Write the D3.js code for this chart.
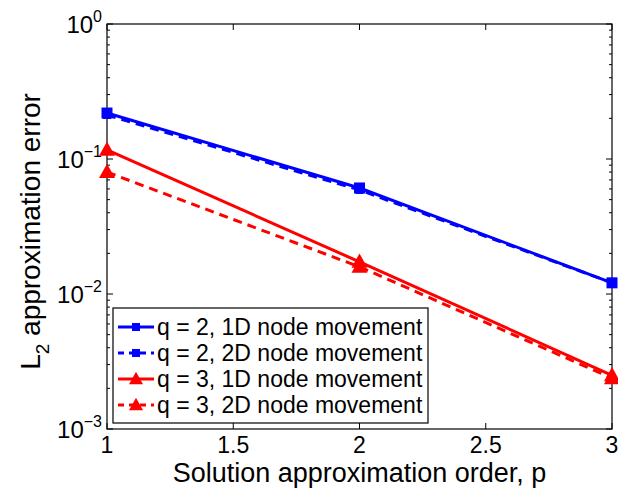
<!DOCTYPE html>
<html>
<head>
<meta charset="utf-8">
<script src="https://cdn.jsdelivr.net/npm/d3@7"></script>
<style>
  body { margin: 0; background: #fff; }
  text { font-family: "Liberation Sans", Arial, sans-serif; }
</style>
</head>
<body>
<div id="chart"></div>
<script>
// data
const orders = [1, 2, 3];
const q2_1d = [0.219, 0.061, 0.0121];
const q2_2d = [0.212, 0.059, 0.0121];
const q3_1d = [0.117, 0.0173, 0.0025];
const q3_2d = [0.080, 0.0159, 0.00238];
const seriesNames = ["q = 2, 1D node movement", "q = 2, 2D node movement",
                     "q = 3, 1D node movement", "q = 3, 2D node movement"];
const xTicks = [1, 1.5, 2, 2.5, 3];
const yDecades = [-3, -2, -1, 0];

const series = [
  {name: seriesNames[0], values: q2_1d, color: "#0000ff", dash: null, marker: "square", size: 11},
  {name: seriesNames[1], values: q2_2d, color: "#0000ff", dash: "9,6", marker: "square", size: 8},
  {name: seriesNames[2], values: q3_1d, color: "#ff0000", dash: null, marker: "triangle", size: 16},
  {name: seriesNames[3], values: q3_2d, color: "#ff0000", dash: "9,6", marker: "triangle", size: 16}
];

const W = 618, H = 489;
const margin = {top: 24, right: 6, bottom: 60, left: 107};
const width = W - margin.left - margin.right,
      height = H - margin.top - margin.bottom;

const svg = d3.select("#chart").append("svg")
  .attr("width", W).attr("height", H);
const g = svg.append("g").attr("transform", `translate(${margin.left},${margin.top})`);

const xScale = d3.scaleLinear().domain([1, 3]).range([0, width]);
const yScale = d3.scaleLog().domain([1e-3, 1]).range([height, 0]);

// minor log ticks
const minor = [];
yDecades.slice(0, 3).forEach(e => {
  for (let k = 2; k <= 9; k++) minor.push(k * Math.pow(10, e));
});

// inward ticks on all four sides
const tickG = g.append("g").attr("stroke", "#000").attr("stroke-width", 1);
xTicks.forEach(t => {
  tickG.append("line").attr("x1", xScale(t)).attr("x2", xScale(t)).attr("y1", height).attr("y2", height - 6);
  tickG.append("line").attr("x1", xScale(t)).attr("x2", xScale(t)).attr("y1", 0).attr("y2", 6);
});
yDecades.forEach(e => {
  const y = yScale(Math.pow(10, e));
  tickG.append("line").attr("x1", 0).attr("x2", 6).attr("y1", y).attr("y2", y);
  tickG.append("line").attr("x1", width).attr("x2", width - 6).attr("y1", y).attr("y2", y);
});
minor.forEach(v => {
  const y = yScale(v);
  tickG.append("line").attr("x1", 0).attr("x2", 3).attr("y1", y).attr("y2", y);
  tickG.append("line").attr("x1", width).attr("x2", width - 3).attr("y1", y).attr("y2", y);
});

// box
g.append("rect").attr("x", 0).attr("y", 0).attr("width", width).attr("height", height)
  .attr("fill", "none").attr("stroke", "#000").attr("stroke-width", 1.2);

// tick labels
g.selectAll(".xlab").data(xTicks).enter().append("text")
  .attr("x", d => xScale(d)).attr("y", height + 24)
  .attr("text-anchor", "middle").style("font-size", "23px")
  .text(d => d);

yDecades.forEach(e => {
  const t = g.append("text")
    .attr("x", -5).attr("y", yScale(Math.pow(10, e)) + 9)
    .attr("text-anchor", "end").style("font-size", "24px");
  t.append("tspan").text("10");
  t.append("tspan").attr("dy", -11).style("font-size", "16px").text(e === 0 ? "0" : "\u2212" + (-e));
});

// axis titles
svg.append("text")
  .attr("x", margin.left + width / 2).attr("y", 482)
  .attr("text-anchor", "middle").style("font-size", "27px")
  .text("Solution approximation order, p");

const yl = svg.append("text")
  .attr("transform", `translate(40, ${margin.top + height / 2 + 5}) rotate(-90)`)
  .attr("text-anchor", "middle").style("font-size", "28px");
yl.append("tspan").text("L");
yl.append("tspan").attr("dy", 9).style("font-size", "19px").text("2");
yl.append("tspan").attr("dy", -9).text(" approximation error");

// lines
const line = d3.line()
  .x((d, i) => xScale(orders[i]))
  .y(d => yScale(d));

function drawMarker(sel, s, x, y) {
  if (s.marker === "square") {
    sel.append("rect")
      .attr("x", x - s.size / 2).attr("y", y - s.size / 2)
      .attr("width", s.size).attr("height", s.size)
      .attr("fill", s.color);
  } else {
    const r = s.size / 2;
    sel.append("path")
      .attr("d", `M${x},${y - r * 1.05}L${x + r},${y + r * 0.75}L${x - r},${y + r * 0.75}Z`)
      .attr("fill", s.color);
  }
}

// draw dashed series first so solid sits on top like the reference
const order = [1, 0, 3, 2];
order.forEach(i => {
  const s = series[i];
  g.append("path").datum(s.values)
    .attr("d", line)
    .attr("fill", "none")
    .attr("stroke", s.color)
    .attr("stroke-width", 3)
    .attr("stroke-dasharray", s.dash);
  const mg = g.append("g");
  s.values.forEach((v, j) => drawMarker(mg, s, xScale(orders[j]), yScale(v)));
});

// legend
const lg = svg.append("g").attr("transform", "translate(113,308)");
lg.append("rect").attr("width", 315).attr("height", 115)
  .attr("fill", "#fff").attr("stroke", "#000").attr("stroke-width", 1.2);
series.forEach((s, i) => {
  const y = 19 + i * 26;
  lg.append("line").attr("x1", 5).attr("x2", 41).attr("y1", y).attr("y2", y)
    .attr("stroke", s.color).attr("stroke-width", 3).attr("stroke-dasharray", s.dash ? "6,5" : null);
  drawMarker(lg, {marker: s.marker, color: s.color, size: s.marker === "square" ? 8 : 14}, 23, y);
  lg.append("text").attr("x", 44).attr("y", y + 8)
    .style("font-size", "23px").text(s.name);
});
</script>
</body>
</html>
